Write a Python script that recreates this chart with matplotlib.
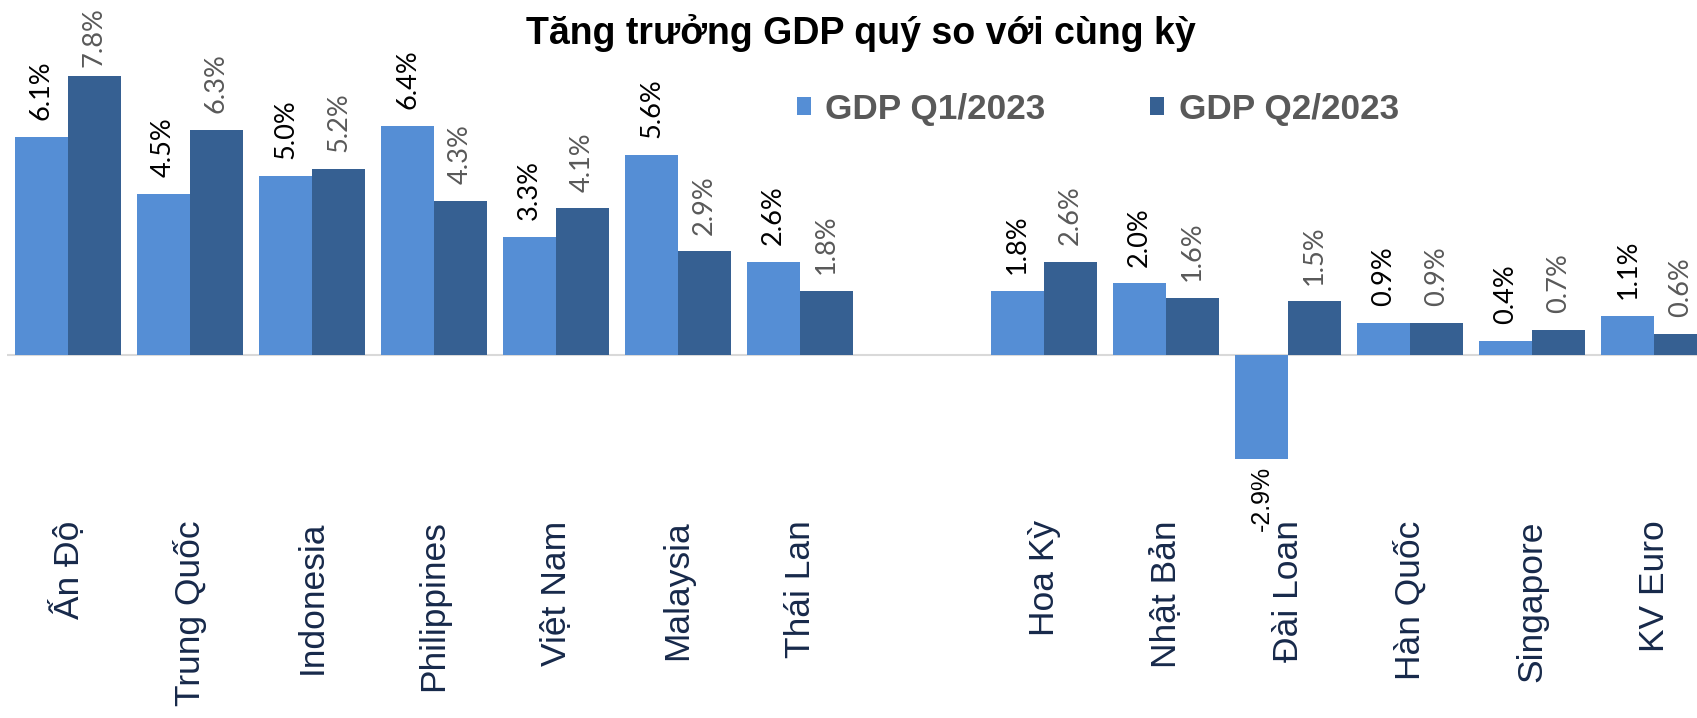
import numpy as np
import matplotlib
matplotlib.use("Agg")
import matplotlib.pyplot as plt

# data
countries = ["Ấn Độ", "Trung Quốc", "Indonesia", "Philippines", "Việt Nam", "Malaysia", "Thái Lan",
             "", "Hoa Kỳ", "Nhật Bản", "Đài Loan", "Hàn Quốc", "Singapore", "KV Euro"]
gdp_q1 = [6.1, 4.5, 5.0, 6.4, 3.3, 5.6, 2.6, np.nan, 1.8, 2.0, -2.9, 0.9, 0.4, 1.1]
gdp_q2 = [7.8, 6.3, 5.2, 4.3, 4.1, 2.9, 1.8, np.nan, 2.6, 1.6, 1.5, 0.9, 0.7, 0.6]
series_names = ["GDP Q1/2023", "GDP Q2/2023"]

c_q1 = "#558ED5"
c_q2 = "#366092"
label_font = "Liberation Sans"
value_font = "Lato"

fig = plt.figure(figsize=(16.97, 7.18), dpi=100)
ax = fig.add_axes([0, 0, 1, 1])
ax.set_xlim(-0.557, 13.35)
ymax, ymin = 9.92, -10.14
ax.set_ylim(ymin, ymax)
ax.axis("off")

x = np.arange(len(countries))
w = 0.434
b1 = ax.bar(x - w / 2, gdp_q1, w, color=c_q1, label=series_names[0], zorder=2)
b2 = ax.bar(x + w / 2, gdp_q2, w, color=c_q2, label=series_names[1], zorder=2)
ax.hlines(0, -0.5, 13.35, color="#d9d9d9", lw=1.5, zorder=1)

px_per_unit = 718 / (ymax - ymin)


def put_label(xp, v, color):
    if np.isnan(v):
        return
    txt = f"{v:.1f}%"
    if v >= 0:
        # keep the tallest label inside the figure
        headroom = (ymax - v) * px_per_unit * 72 / 100
        off = min(12, headroom - 48)
        ax.annotate(txt, (xp, v), xytext=(0, off), textcoords="offset points",
                    rotation=90, ha="center", va="bottom", color=color,
                    fontsize=19.5, family=value_font)
    else:
        ax.annotate(txt, (xp, v), xytext=(0, -5), textcoords="offset points",
                    rotation=90, ha="center", va="top", color="black",
                    fontsize=18, family=label_font)


for i in range(len(countries)):
    put_label(x[i] - w / 2, gdp_q1[i], "black")
    put_label(x[i] + w / 2, gdp_q2[i], "#595959")

# category labels
for i, name in enumerate(countries):
    if name:
        ax.text(x[i], -4.62, name, rotation=90, ha="center", va="top",
                fontsize=25.5, family=label_font, color="#17294a")

fig.text(861 / 1697, 1 - 33 / 718, "Tăng trưởng GDP quý so với cùng kỳ",
         ha="center", va="center", fontsize=27, fontweight="bold",
         family=label_font, color="black")

leg = fig.legend(handles=[b1, b2], loc="center left", bbox_to_anchor=(765 / 1697, 1 - 109 / 718),
                 ncol=2, frameon=False, handlelength=0.4, handleheight=0.4,
                 handletextpad=0.4, columnspacing=3.0,
                 prop={"family": label_font, "weight": "bold", "size": 25.3})
for t in leg.get_texts():
    t.set_color("#595959")

fig.savefig("out.png", dpi=100)
